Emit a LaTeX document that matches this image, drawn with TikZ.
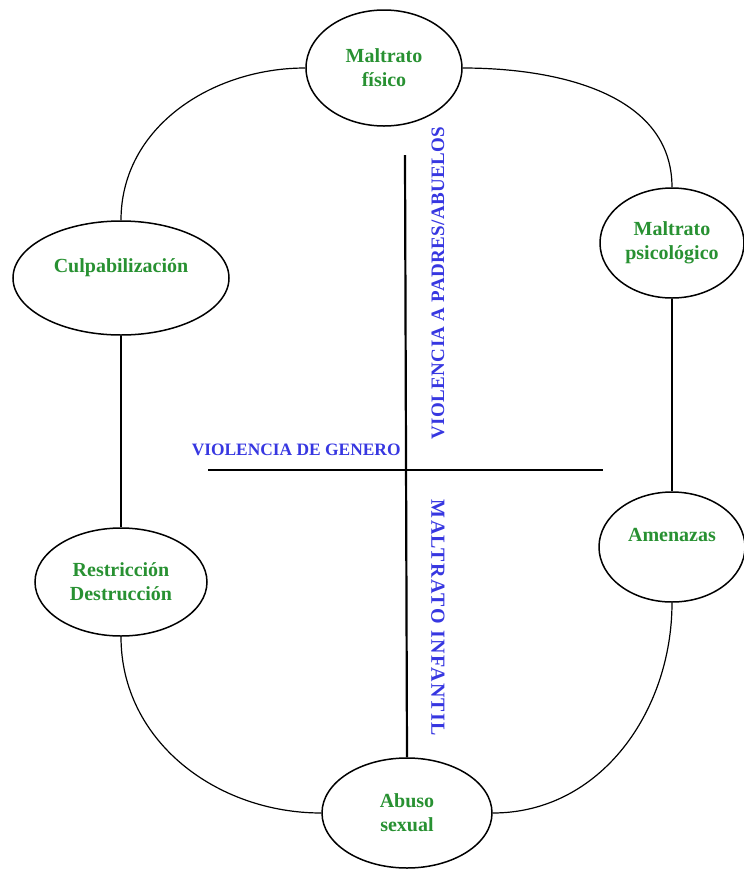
\documentclass[tikz,border=0pt]{standalone}
\usepackage{fontspec}
\setmainfont{Liberation Serif}
\usetikzlibrary{shapes.geometric}
\definecolor{tipogreen}{RGB}{40,145,50}
\definecolor{ejeblue}{RGB}{55,55,225}
\tikzset{
  tipo/.style={ellipse, draw, line width=0.75pt, align=center, inner sep=0pt,
    text=tipogreen, font=\bfseries\fontsize{10}{12}\selectfont},
  eje/.style={text=ejeblue, font=\bfseries\fontsize{9.5}{11}\selectfont, inner sep=0pt},
  lazo/.style={line width=0.6pt},
  cruz/.style={line width=1.1pt}
}

\begin{document}
\begin{tikzpicture}[x=0.5pt, y=-0.5pt]
\useasboundingbox (0,0) rectangle (744,869);
% ellipses
\node(mf)[tipo, minimum width=78pt, minimum height=58pt] at (384,68) {Maltrato\\f\'isico};
\node(cu)[tipo, minimum width=108pt, minimum height=57pt, text depth=12pt] at (121,278) {Culpabilizaci\'on};
\node(mp)[tipo, minimum width=72pt, minimum height=55pt] at (672,243) {Maltrato\\psicol\'ogico};
\node(rd)[tipo, minimum width=86pt, minimum height=54pt] at (121,582) {Restricci\'on\\Destrucci\'on};
\node(am)[tipo, minimum width=73pt, minimum height=55pt, text depth=12pt] at (672,547) {Amenazas};
\node(as)[tipo, minimum width=85pt, minimum height=55pt] at (407,813) {Abuso\\sexual};
% ring
\draw[lazo] (mf.west) to[out=180,in=90] (cu.north);
\draw[lazo] (mf.east) to[out=0,in=90] (mp.north);
\draw[lazo] (cu.south) -- (rd.north);
\draw[lazo] (mp.south) -- (am.north);
\draw[lazo] (rd.south) to[out=-90,in=180] (as.west);
\draw[lazo] (am.south) to[out=-90,in=0] (as.east);
% axes
\coordinate(vt) at (405,155);
\coordinate(hl) at (208,470);
\coordinate(hr) at (603,470);
\draw[cruz] (vt) -- (as.north);
\draw[cruz] (hl) -- (hr);
\node(vg)[eje, anchor=east, font=\bfseries\fontsize{8.7}{11}\selectfont] at (401,450) {VIOLENCIA DE GENERO};
\node(vp)[eje, rotate=90, font=\bfseries\fontsize{9.5}{11}\selectfont\addfontfeature{LetterSpace=2}] at (438,283) {VIOLENCIA A PADRES/ABUELOS};
\node(mi)[eje, rotate=-90, font=\bfseries\fontsize{10}{11}\selectfont\addfontfeature{LetterSpace=7}] at (438,618) {MALTRATO INFANTIL};
\end{tikzpicture}
\end{document}
